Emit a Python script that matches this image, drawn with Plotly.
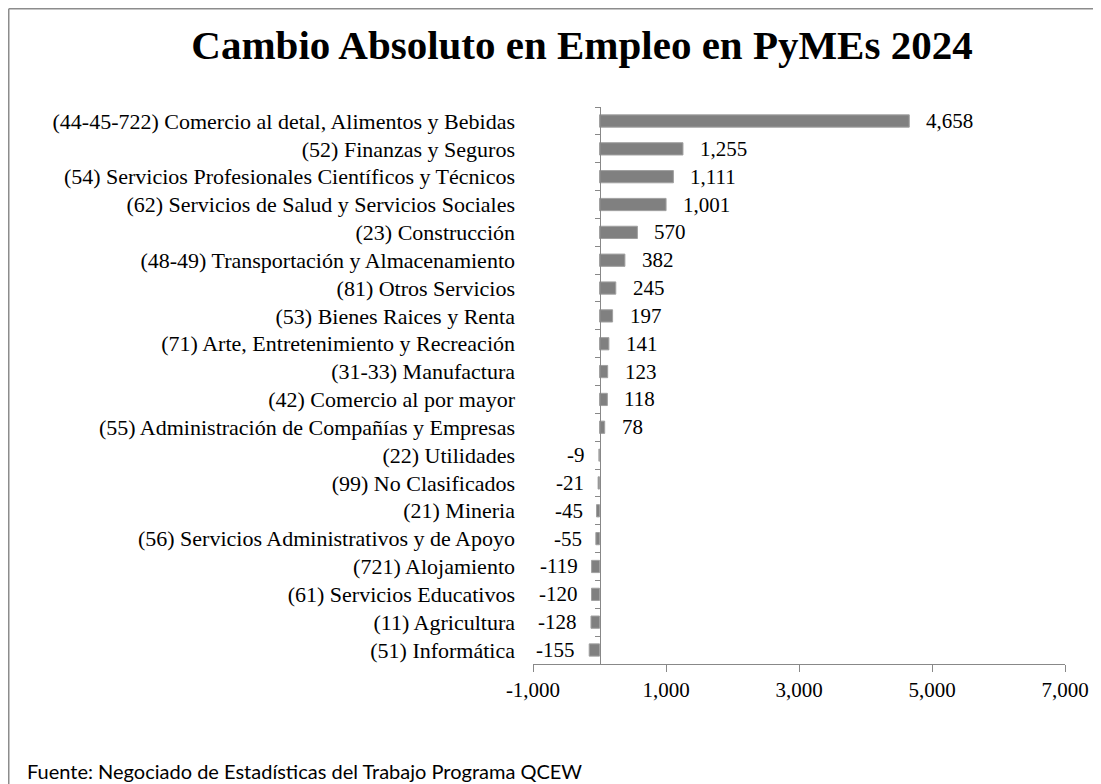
import plotly.graph_objects as go

categories = [
    "(44-45-722) Comercio al detal, Alimentos y Bebidas",
    "(52) Finanzas y Seguros",
    "(54) Servicios Profesionales Científicos y Técnicos",
    "(62) Servicios de Salud y Servicios Sociales",
    "(23) Construcción",
    "(48-49) Transportación y Almacenamiento",
    "(81) Otros Servicios",
    "(53) Bienes Raices y Renta",
    "(71) Arte, Entretenimiento y Recreación",
    "(31-33) Manufactura",
    "(42) Comercio al por mayor",
    "(55) Administración de Compañías y Empresas",
    "(22) Utilidades",
    "(99) No Clasificados",
    "(21) Mineria",
    "(56) Servicios Administrativos y de Apoyo",
    "(721) Alojamiento",
    "(61) Servicios Educativos",
    "(11) Agricultura",
    "(51) Informática",
]
values = [4658, 1255, 1111, 1001, 570, 382, 245, 197, 141, 123, 118, 78,
          -9, -21, -45, -55, -119, -120, -128, -155]
x_ticks = [-1000, 1000, 3000, 5000, 7000]
x_tick_labels = ["-1,000", "1,000", "3,000", "5,000", "7,000"]

# page body has an 8px margin; figure coords = page coords - 8
OFF = 8
W, H = 1101 - OFF, 784 - OFF
L, R, T, B = 533 - OFF, W - (1065 - OFF), 107 - OFF, H - (664 - OFF)
pw, ph = W - L - R, H - T - B

serif = "Liberation Serif, Times New Roman, serif"


def px_x(px):
    return (px - OFF - L) / pw


def px_y(py):
    return (H - B - (py - OFF)) / ph


fig = go.Figure()
fig.add_trace(go.Bar(
    x=values, y=categories, orientation="h",
    marker=dict(color="#808080", line=dict(color="#a0a0a0", width=1)),
    width=0.44, hoverinfo="x+y",
))

for c, v in zip(categories, values):
    fig.add_annotation(
        x=v, y=c, xref="x", yref="y",
        text=f"{v:,}", showarrow=False,
        xanchor="left" if v >= 0 else "right",
        xshift=15 if v >= 0 else -12,
        font=dict(family=serif, size=21, color="#000000"),
    )

n = len(categories)
# axis line at zero with category-boundary ticks
fig.update_layout(
    yaxis2=dict(
        overlaying="y", anchor="free", position=(0 - (-1000)) / 8000,
        range=[n - 0.5, -0.5], tickvals=[i - 0.5 for i in range(n + 1)],
        showticklabels=False, ticks="outside", ticklen=5, tickcolor="#888888",
        showline=True, linecolor="#888888", linewidth=1, showgrid=False,
        zeroline=False,
    )
)
fig.add_trace(go.Scatter(x=[None], y=[None], yaxis="y2", showlegend=False, hoverinfo="skip"))

fig.update_layout(
    width=W, height=H,
    margin=dict(l=L, r=R, t=T, b=B, pad=0),
    paper_bgcolor="white", plot_bgcolor="white",
    showlegend=False,
    bargap=0.56,
    title=dict(
        text="<b>Cambio Absoluto en Empleo en PyMEs 2024</b>",
        x=(582 - OFF) / W, xref="container", xanchor="center",
        y=1 - (45 - OFF) / H, yref="container", yanchor="middle",
        font=dict(family=serif, size=41, color="#000000"),
    ),
    xaxis=dict(
        range=[-1000, 7000], tickvals=x_ticks, ticktext=x_tick_labels,
        ticks="outside", ticklen=7, tickcolor="#888888",
        showline=True, linecolor="#888888", linewidth=1,
        showgrid=False, zeroline=False,
        tickfont=dict(family=serif, size=21, color="#000000"),
    ),
    yaxis=dict(
        categoryorder="array", categoryarray=categories,
        autorange="reversed",
        showline=False, showgrid=False, ticks="", zeroline=False,
        ticklabelstandoff=17,
        tickfont=dict(family=serif, size=22, color="#000000"),
    ),
)

# chart border (top and left edges visible)
border = dict(color="#8c8c8c", width=1.5)
fig.add_shape(type="line", xref="paper", yref="paper",
              x0=px_x(OFF + 0.75), x1=px_x(1101 + 10),
              y0=px_y(OFF + 0.75), y1=px_y(OFF + 0.75), line=border, layer="below")
fig.add_shape(type="line", xref="paper", yref="paper",
              x0=px_x(OFF + 0.75), x1=px_x(OFF + 0.75),
              y0=px_y(OFF + 0.75), y1=px_y(784 + 10), line=border, layer="below")

fig.add_annotation(
    text="Fuente: Negociado de Estadísticas del Trabajo Programa QCEW",
    xref="paper", yref="paper",
    x=px_x(25), y=px_y(771),
    xanchor="left", yanchor="middle", showarrow=False,
    font=dict(family="Lato, Open Sans, sans-serif", size=20, color="#000000"),
)

fig.write_html("out.html")
